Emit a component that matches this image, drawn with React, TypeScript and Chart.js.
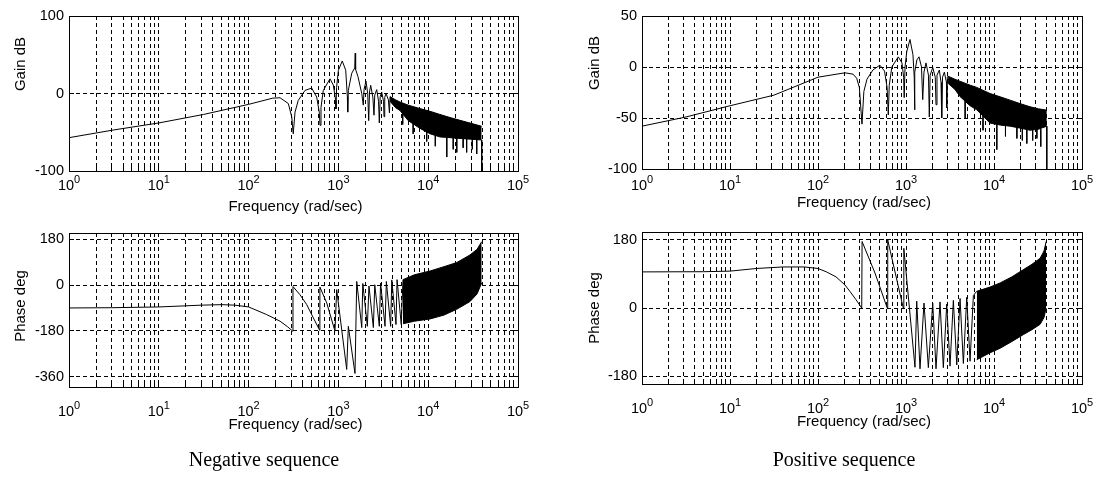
import { useEffect, useRef } from 'react';
import { Chart, registerables } from 'chart.js';

Chart.register(...registerables);

// ---------------- data ----------------
const X_MIN = 1;
const X_MAX = 1e5;
const DECADE_EXPONENTS = [0, 1, 2, 3, 4, 5];
const GRID_MULTIPLIERS = [1, 2, 3, 4, 5, 6, 7, 8, 9];

const NEG_GAIN_TICKS = [-100, 0, 100];
const NEG_PHASE_TICKS = [-360, -180, 0, 180];
const POS_GAIN_TICKS = [-100, -50, 0, 50];
const POS_PHASE_TICKS = [-180, 0, 180];

const X_TITLE = 'Frequency (rad/sec)';
const CAPTIONS = ['Negative sequence', 'Positive sequence'];

// [frequency rad/s, value]
const NEG_GAIN_TRACE: [number, number][] = [
  [1, -57], [3.16, -47], [10, -38], [31.6, -27], [100, -14], [186, -6], [224, -5.5], [277, -13],
  [302, -30], [314, -52], [329, -24], [357, -9], [425, 4], [504, 7], [573, -4.5], [612, -24],
  [624, -41], [640, -18], [679, 4], [806, 19], [877, 11], [933, -9], [940, -20], [955, 8],
  [1000, 30], [1104, 42], [1206, 30], [1258, -4], [1270, -24], [1290, 4], [1406, 26], [1520, 33],
  [1540, 52], [1555, 31], [1650, 22], [1820, 0], [1893, -15], [1930, 5], [2028, 16], [2120, 0],
  [2175, -35], [2220, 2], [2290, 10.6], [2420, -5], [2490, -28], [2540, -2], [2670, 5], [2800, -10],
  [2855, -38], [2920, -4], [3035, 2], [3180, -10], [3220, -30], [3280, -5], [3390, 0], [3600, -8],
  [3700, -25], [3760, -4],
];
// [frequency, upper edge, lower edge] of the dense oscillation band
const NEG_GAIN_BAND: [number, number, number][] = [
  [3760, -4, -10], [4300, -8, -18], [4850, -11, -22], [6000, -15, -35], [8110, -19.5, -45],
  [10500, -23, -52], [13500, -27, -56], [17500, -31, -57], [22600, -34.6, -58], [30000, -38.5, -59],
  [39400, -42.3, -60],
];
// [frequency, from, to] isolated downward spikes
const NEG_GAIN_SPIKES: [number, number, number][] = [
  [5200, -24, -40], [6800, -38, -52], [9620, -48, -62], [12000, -54, -68], [16100, -56, -82],
  [19000, -57, -72], [20800, -57, -76], [24500, -58, -70], [26800, -58, -76], [31000, -59, -72],
  [34700, -59, -78], [39400, -60, -100],
];

const NEG_PHASE_TRACE: [number, number][] = [
  [1, -90], [3, -89], [10, -86], [30, -79], [50, -77], [70, -79], [100, -86], [159, -116],
  [224, -142], [270, -163], [310, -181], [312, -6], [373, -38], [444, -77], [526, -129], [620, -178],
  [622, -8], [741, -70], [916, -181], [957, -18], [1237, -331], [1290, -162], [1531, -347], [1600, 14],
  [1820, -167], [1870, 6], [2100, -162], [2190, -4], [2450, -167], [2540, 1], [2855, -162], [2950, 8],
  [3305, -162], [3420, 14], [3820, -162], [3930, 20], [4380, -155], [4500, 21], [5010, -155], [5240, 21],
];
const NEG_PHASE_BAND: [number, number, number][] = [
  [5240, 21, -152], [7000, 40, -142], [10500, 55, -133], [15000, 72, -118], [20800, 88, -95],
  [29200, 118, -65], [35000, 140, -35], [39400, 170, 8],
];

const POS_GAIN_TRACE: [number, number][] = [
  [1, -58], [3.16, -49], [10, -38], [31.6, -27.6], [100, -10], [202, -5.7], [250, -7], [275, -11],
  [295, -20], [316, -56], [332, -24], [360, -12], [420, -3], [505, 1.8], [570, -4], [610, -20],
  [629, -47], [645, -18], [690, 0], [817, 9.9], [900, 4], [940, -10], [954, -30], [975, 0],
  [1020, 15], [1110, 27], [1200, 12], [1240, -10], [1250, -42], [1265, -5], [1330, 7], [1405, 10],
  [1500, 0], [1549, -32], [1600, -5], [1688, 4], [1800, -8], [1840, -49], [1880, -8], [2013, -0.5],
  [2150, -10], [2193, -37], [2250, -8], [2393, -3], [2500, -15], [2546, -50], [2600, -10], [2728, -5],
  [2880, -15], [2904, -40], [2950, -10], [3005, -9],
];
const POS_GAIN_BAND: [number, number, number][] = [
  [3005, -9, -16], [3600, -12, -22], [4110, -14, -29], [5350, -17.8, -38], [6370, -20, -42],
  [9020, -26, -55], [12000, -29.5, -57], [15240, -32.5, -58], [20000, -36, -60], [25700, -39, -62],
  [32000, -41, -61], [39800, -42.3, -58],
];
const POS_GAIN_SPIKES: [number, number, number][] = [
  [4700, -33, -50], [7500, -48, -62], [10760, -56, -81], [13500, -57, -68], [18200, -59, -70],
  [21000, -60, -72], [23600, -61, -75], [27500, -62, -72], [30700, -61, -70], [34000, -61, -78],
  [39800, -58, -100],
];

const POS_PHASE_TRACE: [number, number][] = [
  [1, 95], [5, 95.5], [10, 97], [20, 104], [40, 108], [70, 108], [100, 104], [125, 95], [160, 82],
  [200, 62], [230, 44], [270, 22], [314, 0], [317, 175], [444, 92], [612, 0], [620, 179], [931, 0],
  [945, 157], [1265, -156], [1324, 18], [1443, -160], [1602, 13], [1795, -157], [2012, 13],
  [2193, -160], [2436, 16], [2656, -157], [2903, 10], [3164, -153], [3452, 20], [3775, -150],
  [4114, 25], [4487, -146], [4900, 28], [5345, -140], [5830, 33], [6370, 44],
];
const POS_PHASE_BAND: [number, number, number][] = [
  [6370, 44, -136], [9000, 55, -118], [11740, 66, -106], [16000, 82, -88], [21600, 101, -70],
  [27000, 115, -57], [33430, 131, -43], [37000, 150, -25], [39150, 175, 0],
];

// ---------------- layout / style ----------------
const W = 1102;
const H = 483;
const FONT = '"Liberation Sans", Arial, Helvetica, sans-serif';
const Y_AXIS_W = 60;

type Panel = {
  area: { l: number; t: number; r: number; b: number };
  yMin: number; yMax: number; yTicks: number[]; yTitle: string;
  yTitleX: number; yTitleY: number; tickBase: number; xTitleBase: number;
  trace: [number, number][]; band: [number, number, number][]; spikes: [number, number, number][];
};

const PANELS: Panel[] = [
  { area: { l: 69, t: 16, r: 518, b: 171 }, yMin: -100, yMax: 100, yTicks: NEG_GAIN_TICKS, yTitle: 'Gain dB',
    yTitleX: 24.5, yTitleY: 64, tickBase: 190, xTitleBase: 211, trace: NEG_GAIN_TRACE, band: NEG_GAIN_BAND, spikes: NEG_GAIN_SPIKES },
  { area: { l: 69, t: 233, r: 518, b: 387 }, yMin: -400, yMax: 204, yTicks: NEG_PHASE_TICKS, yTitle: 'Phase deg',
    yTitleX: 24.5, yTitleY: 306, tickBase: 416, xTitleBase: 429, trace: NEG_PHASE_TRACE, band: NEG_PHASE_BAND, spikes: [] },
  { area: { l: 642, t: 16, r: 1082, b: 169 }, yMin: -100, yMax: 50, yTicks: POS_GAIN_TICKS, yTitle: 'Gain dB',
    yTitleX: 599, yTitleY: 63, tickBase: 190, xTitleBase: 207, trace: POS_GAIN_TRACE, band: POS_GAIN_BAND, spikes: POS_GAIN_SPIKES },
  { area: { l: 642, t: 232, r: 1082, b: 384 }, yMin: -200, yMax: 200, yTicks: POS_PHASE_TICKS, yTitle: 'Phase deg',
    yTitleX: 599, yTitleY: 308, tickBase: 413, xTitleBase: 426, trace: POS_PHASE_TRACE, band: POS_PHASE_BAND, spikes: [] },
];

const alignPx = (p: number) => Math.round(p - 0.5) + 0.5;

const decorPlugin = {
  id: 'decor',
  afterDraw(chart: any, _args: any, o: any) {
    const { ctx, chartArea: a } = chart;
    const xs = chart.scales.x;
    const ys = chart.scales.y;
    ctx.save();
    ctx.strokeStyle = '#000';
    ctx.lineWidth = 1;
    ctx.setLineDash([]);
    ctx.beginPath();
    xs.ticks.forEach((t: any) => {
      const p = alignPx(xs.getPixelForValue(t.value));
      ctx.moveTo(p, a.top); ctx.lineTo(p, a.top + 4);
      ctx.moveTo(p, a.bottom); ctx.lineTo(p, a.bottom - 4);
    });
    ys.ticks.forEach((t: any) => {
      const p = alignPx(ys.getPixelForValue(t.value));
      ctx.moveTo(a.left, p); ctx.lineTo(a.left + 5, p);
      ctx.moveTo(a.right, p); ctx.lineTo(a.right - 5, p);
    });
    ctx.stroke();
    const L = alignPx(a.left), R = alignPx(a.right), T = alignPx(a.top), B = alignPx(a.bottom);
    ctx.strokeRect(L, T, R - L, B - T);

    ctx.fillStyle = '#000';
    ctx.textBaseline = 'alphabetic';
    ctx.textAlign = 'left';
    DECADE_EXPONENTS.forEach((k) => {
      const p = xs.getPixelForValue(Math.pow(10, k));
      ctx.font = `14.5px ${FONT}`;
      const w1 = ctx.measureText('10').width;
      ctx.font = `11px ${FONT}`;
      const w2 = ctx.measureText(String(k)).width;
      const s = p - (w1 + w2) / 2;
      ctx.font = `14.5px ${FONT}`;
      ctx.fillText('10', s, o.tickBase);
      ctx.font = `11px ${FONT}`;
      ctx.fillText(String(k), s + w1, o.tickBase - 7.5);
    });

    ctx.font = `15px ${FONT}`;
    ctx.textAlign = 'center';
    ctx.fillText(X_TITLE, (a.left + a.right) / 2 + 2, o.xTitleBase);

    ctx.translate(o.yTitleX, o.yTitleY);
    ctx.rotate(-Math.PI / 2);
    ctx.fillText(o.yTitle, 0, 0);
    ctx.restore();
  },
};

function buildConfig(p: Panel): any {
  const xGrid: number[] = [];
  DECADE_EXPONENTS.forEach((k) => {
    if (k === DECADE_EXPONENTS[DECADE_EXPONENTS.length - 1]) xGrid.push(Math.pow(10, k));
    else GRID_MULTIPLIERS.forEach((m) => xGrid.push(m * Math.pow(10, k)));
  });
  const line = { borderColor: '#000', borderWidth: 1, pointRadius: 0, tension: 0, fill: false };
  const spikeData: any[] = [];
  p.spikes.forEach(([f, a, b]) => {
    spikeData.push({ x: f, y: a }, { x: f, y: b }, { x: f, y: null });
  });
  return {
    type: 'line',
    data: {
      datasets: [
        { ...line, data: p.trace.map(([x, y]) => ({ x, y })) },
        { ...line, data: p.band.map(([x, y]) => ({ x, y })) },
        { ...line, fill: '-1', backgroundColor: '#000', data: p.band.map(([x, , y]) => ({ x, y })) },
        { ...line, spanGaps: false, data: spikeData },
      ],
    },
    options: {
      animation: false,
      responsive: false,
      events: [],
      layout: { padding: { left: p.area.l - Y_AXIS_W, top: p.area.t, right: W - p.area.r, bottom: H - p.area.b } },
      plugins: {
        legend: { display: false },
        tooltip: { enabled: false },
        decor: { yTitle: p.yTitle, yTitleX: p.yTitleX, yTitleY: p.yTitleY, tickBase: p.tickBase, xTitleBase: p.xTitleBase },
      },
      scales: {
        x: {
          type: 'logarithmic', min: X_MIN, max: X_MAX,
          afterBuildTicks: (s: any) => { s.ticks = xGrid.map((v) => ({ value: v })); },
          afterFit: (s: any) => { s.height = 0; },
          ticks: { display: false },
          grid: { color: '#000', lineWidth: 1, drawTicks: false },
          border: { display: false, dash: [4, 3] },
        },
        y: {
          type: 'linear', min: p.yMin, max: p.yMax,
          afterBuildTicks: (s: any) => { s.ticks = p.yTicks.map((v) => ({ value: v })); },
          afterFit: (s: any) => { s.width = Y_AXIS_W; },
          ticks: { color: '#000', padding: 5, font: { family: FONT, size: 14.5 }, callback: (v: any) => String(v) },
          grid: { color: '#000', lineWidth: 1, drawTicks: false },
          border: { display: false, dash: [4, 3] },
        },
      },
    },
    plugins: [decorPlugin],
  };
}

export default function App() {
  const refs = useRef<(HTMLCanvasElement | null)[]>([]);
  useEffect(() => {
    const charts = PANELS.map((p, i) => new Chart(refs.current[i] as HTMLCanvasElement, buildConfig(p)));
    return () => charts.forEach((c) => c.destroy());
  }, []);
  return (
    <div style={{ position: 'absolute', left: 0, top: 0, width: W, height: H, background: '#fff', overflow: 'hidden' }}>
      {PANELS.map((_, i) => (
        <canvas
          key={i}
          ref={(el) => { refs.current[i] = el; }}
          width={W}
          height={H}
          style={{ position: 'absolute', left: 0, top: 0, width: W, height: H }}
        />
      ))}
      {CAPTIONS.map((c, i) => (
        <div
          key={c}
          style={{
            position: 'absolute', left: (i === 0 ? 264 : 844) - 150, width: 300, top: 449,
            textAlign: 'center', fontFamily: '"Liberation Serif", "Times New Roman", serif',
            fontSize: 20, lineHeight: '20px', color: '#000',
          }}
        >
          {c}
        </div>
      ))}
    </div>
  );
}
